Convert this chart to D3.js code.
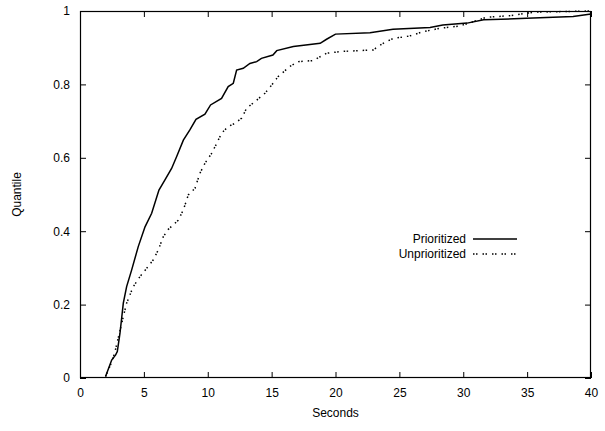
<!DOCTYPE html>
<html><head><meta charset="utf-8">
<script src="https://cdn.jsdelivr.net/npm/d3@7"></script>
<style>body{margin:0;background:#fff}svg{display:block}text{font-family:"Liberation Sans",Arial,sans-serif;font-size:12px;fill:#000}</style>
</head><body><svg id="c" width="605" height="431"></svg>
<script>
const xTicks = [0,5,10,15,20,25,30,35,40];
const yTicks = [0,0.2,0.4,0.6,0.8,1];
const seriesNames = ["Prioritized","Unprioritized"];
const prioX = [2.0,2.48,2.79,2.92,3.13,3.39,3.65,4.04,4.56,5.09,5.61,6.18,6.65,7.17,7.56,8.09,8.6,9.08,9.78,10.22,11.08,11.6,12.0,12.26,12.78,13.3,13.83,14.2,15.1,15.4,16.7,18.8,19.3,20.0,22.7,24.5,27.4,28.4,30.3,31.6,34.95,38.6,40];
const prioY = [0.004,0.049,0.063,0.072,0.122,0.204,0.249,0.294,0.358,0.412,0.449,0.512,0.54,0.571,0.603,0.648,0.676,0.705,0.719,0.744,0.762,0.794,0.803,0.839,0.844,0.857,0.862,0.871,0.88,0.892,0.903,0.912,0.923,0.937,0.941,0.95,0.955,0.962,0.967,0.976,0.98,0.985,0.992];
const unX = [2.0,2.5,2.74,3.0,3.39,3.65,4.17,4.69,5.22,5.74,6.13,6.52,6.91,7.69,8.09,8.48,9.0,9.39,9.78,10.3,10.7,11.08,11.6,12.13,12.65,13.04,13.83,14.48,15.0,15.5,16.43,17.1,18.26,19.3,20.6,22.95,23.73,24.5,25.8,26.9,28.2,29.7,30.8,31.8,33.6,34.95,35.7,40];
const unY = [0.004,0.045,0.072,0.11,0.167,0.204,0.249,0.276,0.299,0.322,0.349,0.385,0.405,0.43,0.458,0.499,0.517,0.558,0.585,0.612,0.639,0.667,0.685,0.694,0.708,0.735,0.757,0.776,0.798,0.821,0.849,0.862,0.865,0.885,0.89,0.894,0.912,0.925,0.932,0.944,0.953,0.959,0.971,0.983,0.987,0.994,0.997,1.0];

const L=80,R=591,T=11,B=378;
const svg=d3.select("#c");
const x=d3.scaleLinear().domain([0,40]).range([L,R]);
const y=d3.scaleLinear().domain([0,1]).range([B,T]);
const tl=6;
// axes with inward ticks
svg.append("g").attr("transform",`translate(0,${B})`).call(d3.axisBottom(x).tickValues(xTicks).tickSize(-tl).tickPadding(10).tickFormat(d3.format("d")));
svg.append("g").attr("transform",`translate(0,${T})`).call(d3.axisTop(x).tickValues(xTicks).tickSize(-tl).tickFormat(""));
svg.append("g").attr("transform",`translate(${L},0)`).call(d3.axisLeft(y).tickValues(yTicks).tickSize(-tl).tickPadding(10).tickFormat(d=>d3.format("")(+d.toFixed(1))));
svg.append("g").attr("transform",`translate(${R},0)`).call(d3.axisRight(y).tickValues(yTicks).tickSize(-tl).tickFormat(""));
svg.selectAll(".domain").remove();
svg.selectAll(".tick line").attr("stroke","#000").attr("stroke-width",1);
svg.selectAll(".tick text").style("font-size","12px").attr("fill","#000");
svg.append("rect").attr("x",L+0.5).attr("y",T+0.5).attr("width",R-L-1).attr("height",B-T-1).attr("fill","none").attr("stroke","#000").attr("stroke-width",1.2);

const line=d3.line().x(d=>x(d[0])).y(d=>y(d[1]));
const pData=prioX.map((v,i)=>[v,prioY[i]]);
const uData=unX.map((v,i)=>[v,unY[i]]);
svg.append("path").datum(uData).attr("d",line).attr("fill","none").attr("stroke","#000").attr("stroke-width",1.5).attr("stroke-dasharray","1.5,1.5,1.5,5");
svg.append("path").datum(pData).attr("d",line).attr("fill","none").attr("stroke","#000").attr("stroke-width",1.5);

// legend
const lg=[{n:seriesNames[0],y:239,dash:null},{n:seriesNames[1],y:254,dash:"1.5,1.5,1.5,5"}];
lg.forEach(l=>{
  svg.append("text").attr("x",466).attr("y",l.y).attr("dy","0.35em").attr("text-anchor","end").text(l.n);
  const p=svg.append("line").attr("x1",473).attr("x2",517).attr("y1",l.y).attr("y2",l.y).attr("stroke","#000").attr("stroke-width",1.5);
  if(l.dash)p.attr("stroke-dasharray",l.dash);
});
svg.append("text").attr("x",(L+R)/2).attr("y",417).attr("text-anchor","middle").text("Seconds");
svg.append("text").attr("transform",`translate(21,${(T+B)/2}) rotate(-90)`).attr("text-anchor","middle").text("Quantile");
</script></body></html>
